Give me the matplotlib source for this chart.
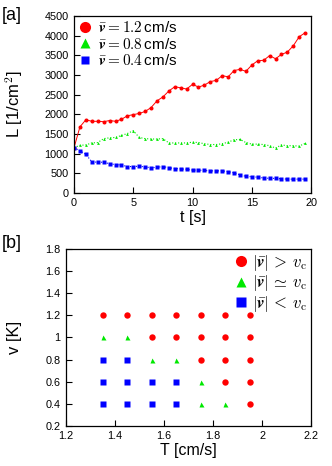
import matplotlib
matplotlib.use("Agg")
import matplotlib.pyplot as plt
import numpy as np

plt.rcParams['font.family'] = ['Liberation Sans', 'DejaVu Sans']
plt.rcParams['mathtext.fontset'] = 'cm'

t = np.arange(0, 20, 0.5)
L_12 = [1150, 1680, 1860, 1820, 1820, 1810, 1840, 1820, 1870, 1960,
        1990, 2020, 2070, 2170, 2340, 2440, 2590, 2700, 2670, 2640,
        2760, 2690, 2740, 2830, 2860, 2980, 2950, 3110, 3140, 3090,
        3250, 3360, 3370, 3490, 3410, 3520, 3580, 3740, 3970, 4070]
L_08 = [1150, 1210, 1220, 1270, 1280, 1380, 1400, 1410, 1460, 1510,
        1580, 1410, 1380, 1370, 1370, 1380, 1270, 1270, 1270, 1270,
        1290, 1280, 1250, 1230, 1230, 1250, 1290, 1350, 1360, 1280,
        1240, 1240, 1230, 1200, 1140, 1220, 1200, 1200, 1190, 1260]
L_04 = [1150, 1070, 980, 790, 780, 780, 740, 720, 710, 670,
        670, 680, 660, 640, 650, 670, 640, 620, 610, 600,
        580, 580, 570, 560, 560, 560, 540, 510, 460, 420,
        410, 400, 380, 370, 370, 360, 350, 350, 350, 350]

# phase diagram
T_above = [1.35, 1.45, 1.55, 1.65, 1.75, 1.85, 1.95,
           1.55, 1.65, 1.75, 1.85, 1.95,
           1.75, 1.85, 1.95,
           1.85, 1.95,
           1.95]
v_above = [1.2] * 7 + [1.0] * 5 + [0.8] * 3 + [0.6] * 2 + [0.4]
T_equal = [1.35, 1.45, 1.55, 1.65, 1.75, 1.75, 1.85]
v_equal = [1.0, 1.0, 0.8, 0.8, 0.6, 0.4, 0.4]
T_below = [1.35, 1.45, 1.35, 1.45, 1.55, 1.65, 1.35, 1.45, 1.55, 1.65]
v_below = [0.8, 0.8, 0.6, 0.6, 0.6, 0.6, 0.4, 0.4, 0.4, 0.4]

RED = '#ff0000'
GREEN = '#00e800'
BLUE = '#0000ff'

fig = plt.figure(figsize=(3.32, 4.66), dpi=100)

ax1 = fig.add_axes([0.223, 0.586, 0.714, 0.380])
ax1.plot(t, L_12, '-', color=RED, lw=0.7, marker='o', ms=2.9, mec='none',
         label=r'$\bar{\boldsymbol{v}} = 1.2\,$cm/s')
ax1.plot(t, L_08, ':', color=GREEN, lw=0.8, marker='^', ms=2.0, mec='none',
         label=r'$\bar{\boldsymbol{v}} = 0.8\,$cm/s')
ax1.plot(t, L_04, ':', color=BLUE, lw=0.8, marker='s', ms=2.3, mec='none',
         label=r'$\bar{\boldsymbol{v}} = 0.4\,$cm/s')
ax1.set_xlim(0, 20)
ax1.set_ylim(0, 4500)
ax1.set_xticks([0, 5, 10, 15, 20])
ax1.set_yticks(np.arange(0, 4501, 500))
ax1.set_xlabel('t [s]', fontsize=11.5, labelpad=1)
ax1.set_ylabel(r'L [1/cm$^2$]', fontsize=12)
ax1.yaxis.set_label_coords(-0.205, 0.5)
leg1 = ax1.legend(loc='upper left', frameon=False, fontsize=11,
                  handlelength=0.8, handletextpad=0.5, labelspacing=0.08,
                  borderaxespad=0.1, borderpad=0.2)
for h, ms in zip(leg1.legend_handles, [8, 7, 6]):
    h.set_linestyle('None')
    h.set_markersize(ms)

ax2 = fig.add_axes([0.199, 0.086, 0.738, 0.380])
ax2.plot(T_above, v_above, 'o', color=RED, ms=4.6, mec='none',
         label=r'$|\bar{\boldsymbol{v}}|\, >\, v_{\rm c}$')
ax2.plot(T_equal, v_equal, '^', color=GREEN, ms=3.6, mec='none',
         label=r'$|\bar{\boldsymbol{v}}|\, \simeq\, v_{\rm c}$')
ax2.plot(T_below, v_below, 's', color=BLUE, ms=4.3, mec='none',
         label=r'$|\bar{\boldsymbol{v}}|\, <\, v_{\rm c}$')
ax2.set_xlim(1.2, 2.2)
ax2.set_ylim(0.2, 1.8)
ax2.set_xticks([1.2, 1.4, 1.6, 1.8, 2.0, 2.2])
ax2.set_xticklabels(['1.2', '1.4', '1.6', '1.8', '2', '2.2'])
ax2.set_yticks([0.2, 0.4, 0.6, 0.8, 1.0, 1.2, 1.4, 1.6, 1.8])
ax2.set_yticklabels(['0.2', '0.4', '0.6', '0.8', '1', '1.2', '1.4', '1.6', '1.8'])
ax2.set_xlabel('T [cm/s]', fontsize=11.5, labelpad=1)
ax2.set_ylabel('v [K]', fontsize=12)
ax2.yaxis.set_label_coords(-0.18, 0.5)
leg2 = ax2.legend(loc='upper right', frameon=False, fontsize=12,
                  handlelength=0.7, handletextpad=0.3, labelspacing=0.02,
                  borderaxespad=0.1, borderpad=0.15)
for h, ms in zip(leg2.legend_handles, [8, 7.5, 6.5]):
    h.set_markersize(ms)

for ax in (ax1, ax2):
    ax.tick_params(direction='in', labelsize=7.8, length=4, width=0.8,
                   top=False, right=False, pad=4)
    for s in ax.spines.values():
        s.set_linewidth(0.9)

fig.text(0.005, 0.985, '[a]', fontsize=13, va='top', ha='left')
fig.text(0.005, 0.495, '[b]', fontsize=13, va='top', ha='left')

fig.savefig('out.png', dpi=100)
